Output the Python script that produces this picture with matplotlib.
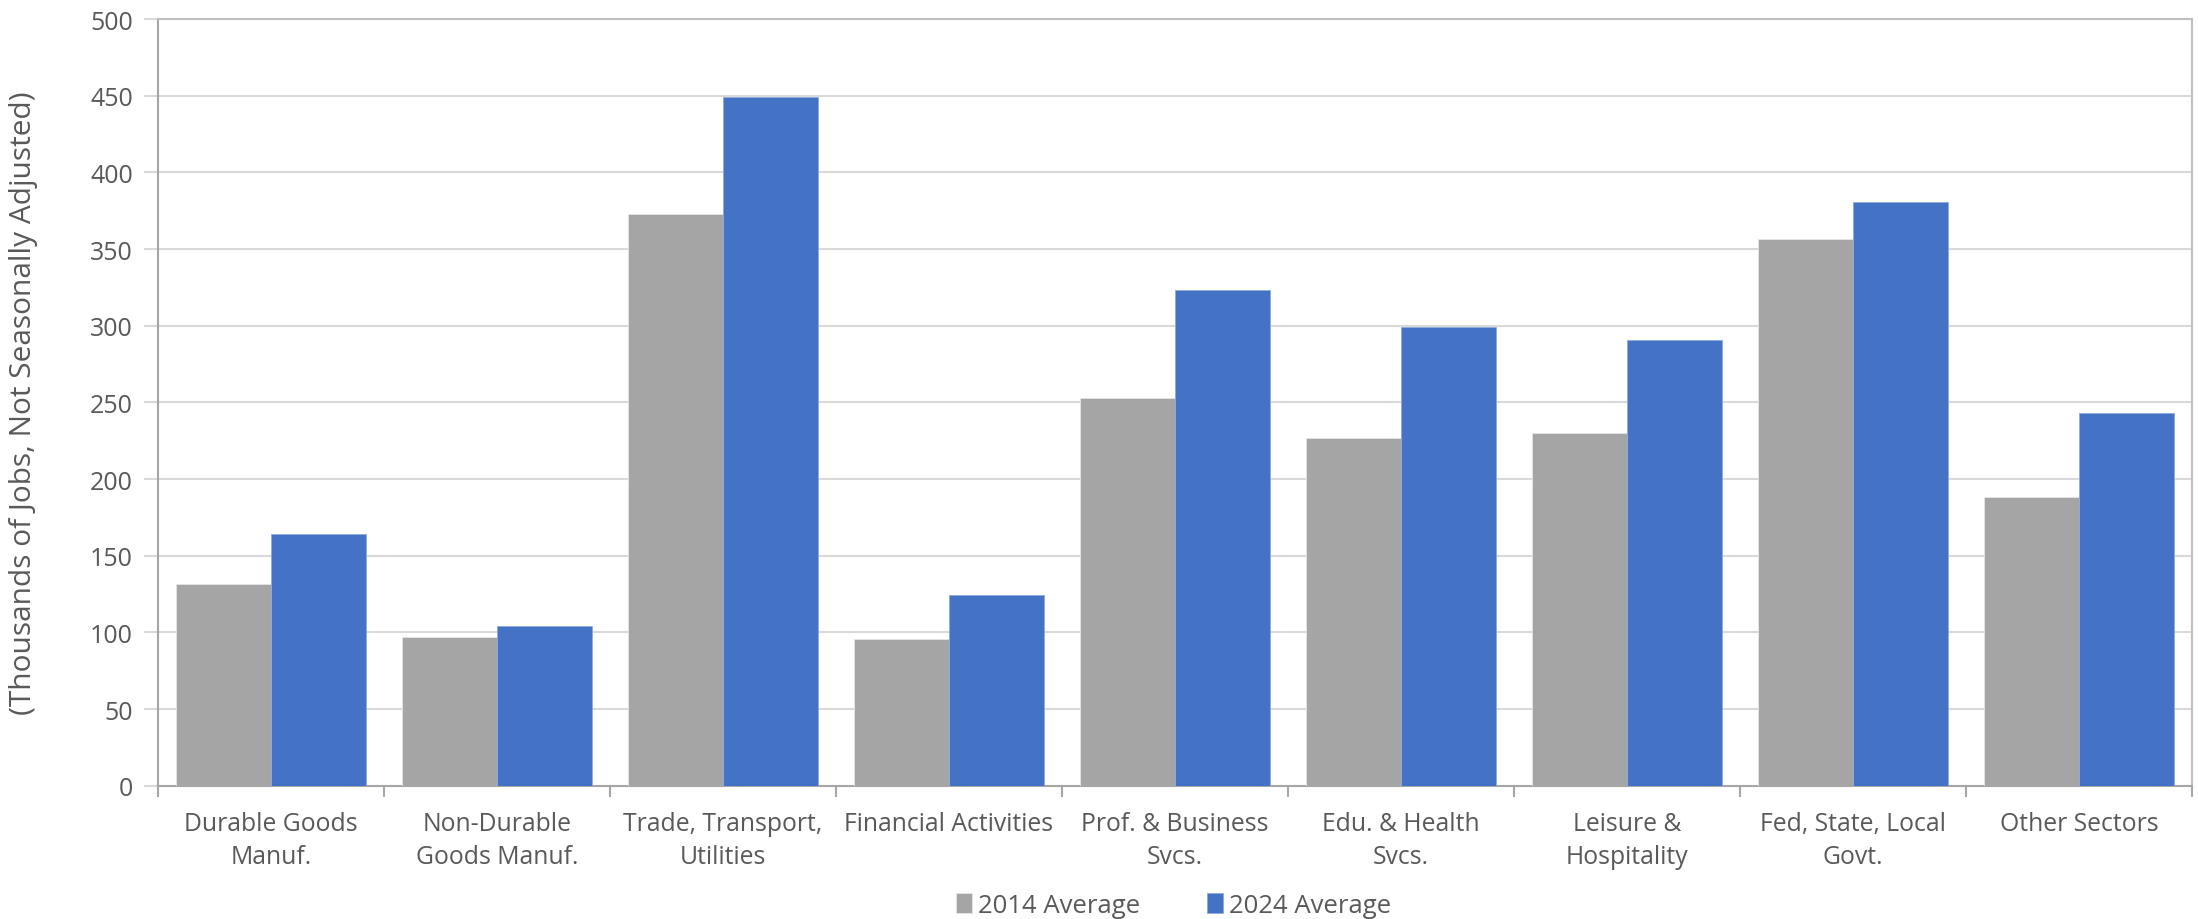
import numpy as np
import matplotlib.pyplot as plt
from matplotlib.ticker import FixedLocator

plt.rcParams['font.family'] = ['Open Sans', 'DejaVu Sans']

# Data
categories = ["Durable Goods\nManuf.", "Non-Durable\nGoods Manuf.", "Trade, Transport,\nUtilities",
              "Financial Activities", "Prof. & Business\nSvcs.", "Edu. & Health\nSvcs.",
              "Leisure &\nHospitality", "Fed, State, Local\nGovt.", "Other Sectors"]
avg_2014 = [131.6, 96.8, 373, 95.9, 252.6, 226.5, 229.7, 356.3, 188.3]
avg_2024 = [164.2, 104.0, 449, 124.4, 323.3, 298.9, 291, 380.9, 243]
label_2014 = "2014 Average"
label_2024 = "2024 Average"
y_ticks = [0, 50, 100, 150, 200, 250, 300, 350, 400, 450, 500]

color_gray = "#A5A5A5"
color_blue = "#4472C4"
text_color = "#595959"
axis_color = "#A6A6A6"
grid_color = "#D9D9D9"

fig = plt.figure(figsize=(21.98, 9.2), dpi=100)
ax = fig.add_axes([0.0719, 0.1449, 0.9254, 0.8333])

x = np.arange(len(categories))
w = 0.419
ax.bar(x - w / 2, avg_2014, width=w, color=color_gray, label=label_2014,
       edgecolor="#E6E6E6", linewidth=0.6, zorder=3)
ax.bar(x + w / 2, avg_2024, width=w, color=color_blue, label=label_2024,
       edgecolor="#8FAADC", linewidth=0.6, zorder=3)

ax.set_xlim(-0.5, len(categories) - 0.5)
ax.set_ylim(0, 500)
ax.set_yticks(y_ticks)
ax.yaxis.grid(True, color=grid_color, linewidth=1.5, zorder=0)
ax.set_axisbelow(True)

ax.set_xticks(x)
ax.set_xticklabels(categories, fontsize=17.8, color=text_color, linespacing=1.45)
ax.xaxis.set_minor_locator(FixedLocator(np.arange(len(categories) + 1) - 0.5))
ax.tick_params(axis="x", which="major", length=0, pad=18)
ax.tick_params(axis="x", which="minor", length=8, width=1.5, color=axis_color)
ax.tick_params(axis="y", length=10, width=1.5, color=grid_color, labelsize=18,
               labelcolor=text_color, pad=8)

for side in ["left", "bottom", "top", "right"]:
    ax.spines[side].set_color(axis_color)
    ax.spines[side].set_linewidth(1.5)
ax.spines["top"].set_color("#BFBFBF")
ax.spines["right"].set_color("#BFBFBF")

ax.set_ylabel("(Thousands of Jobs, Not Seasonally Adjusted)", fontsize=21.5,
              color=text_color)
ax.yaxis.set_label_coords(-0.059, 0.5)

leg = fig.legend(loc="lower center", bbox_to_anchor=(0.534, -0.024), ncol=2,
                 frameon=False, fontsize=18.5, handlelength=0.6, handleheight=0.8,
                 handletextpad=0.25, columnspacing=2.6)
for t in leg.get_texts():
    t.set_color(text_color)

fig.savefig("out.png", dpi=100, facecolor="white")
